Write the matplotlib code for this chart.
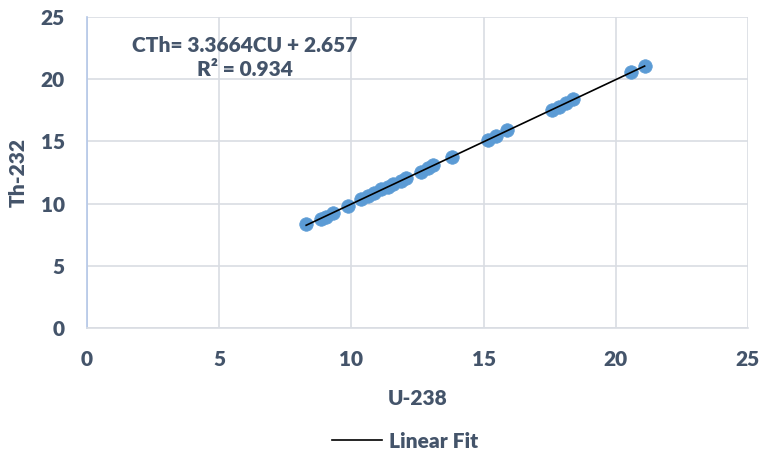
import numpy as np
import matplotlib.pyplot as plt
from matplotlib.lines import Line2D

# Values
u238 = [8.29, 8.86, 9.05, 9.30, 9.86, 10.37, 10.62, 10.87, 11.12, 11.37, 11.56,
        11.88, 12.06, 12.63, 12.88, 13.09, 13.82, 15.18, 15.46, 15.90, 17.60,
        17.85, 18.10, 18.38, 20.59, 21.09]
th232 = [8.34, 8.74, 8.95, 9.22, 9.81, 10.37, 10.61, 10.88, 11.15, 11.36, 11.55,
         11.82, 12.03, 12.57, 12.84, 13.10, 13.77, 15.11, 15.43, 15.92, 17.52,
         17.79, 18.06, 18.38, 20.55, 21.06]
x_ticks = [0, 5, 10, 15, 20, 25]
y_ticks = [0, 5, 10, 15, 20, 25]
equation = 'CTh= 3.3664CU + 2.657\nR² = 0.934'

text_color = '#44546A'
point_color = '#5B9BD5'
grid_color = '#D9DDE3'
weight = 800

plt.rcParams['font.family'] = 'Lato'
plt.rcParams['font.weight'] = weight

fig = plt.figure(figsize=(7.67, 4.58), dpi=100)
ax = fig.add_axes([0.1134, 0.2838, 0.8618, 0.6791])

ax.scatter(u238, th232, s=95, color=point_color, edgecolors=point_color,
           linewidths=0.5, zorder=3)

# linear fit through the points
coef = np.polyfit(u238, th232, 1)
xs = np.array([min(u238), max(u238)])
ax.plot(xs, np.polyval(coef, xs), color='black', linewidth=1.2, zorder=4)

ax.set_xlim(0, 25)
ax.set_ylim(0, 25)
ax.set_xticks(x_ticks)
ax.set_yticks(y_ticks)
ax.grid(True, color=grid_color, linewidth=1.2)
ax.set_axisbelow(True)
ax.tick_params(length=0, labelsize=15, colors=text_color, pad=16)
for lbl in ax.get_xticklabels() + ax.get_yticklabels():
    lbl.set_fontweight(weight)

for side in ['top', 'right']:
    ax.spines[side].set_visible(False)
ax.spines['left'].set_color('#B4C7E7')
ax.spines['bottom'].set_color(grid_color)
ax.spines['left'].set_linewidth(1.2)
ax.spines['bottom'].set_linewidth(1.2)

ax.set_xlabel('U-238', fontsize=15, fontweight=weight, color=text_color)
ax.set_ylabel('Th-232', fontsize=15, fontweight=weight, color=text_color)
ax.xaxis.set_label_coords(0.5, -0.195)
ax.yaxis.set_label_coords(-0.089, 0.5)

ax.text(0.239, 0.939, equation, transform=ax.transAxes, ha='center', va='top',
        fontsize=15, fontweight=weight, color=text_color, linespacing=1.3)

handle = Line2D([0], [0], color='black', linewidth=1.2)
leg = fig.legend([handle], ['Linear Fit'], loc='center', bbox_to_anchor=(0.528, 0.037),
                 frameon=False, handlelength=2.4, handletextpad=0.35,
                 prop={'size': 15, 'weight': weight})
for t in leg.get_texts():
    t.set_color(text_color)

fig.savefig('out.png', dpi=100)
